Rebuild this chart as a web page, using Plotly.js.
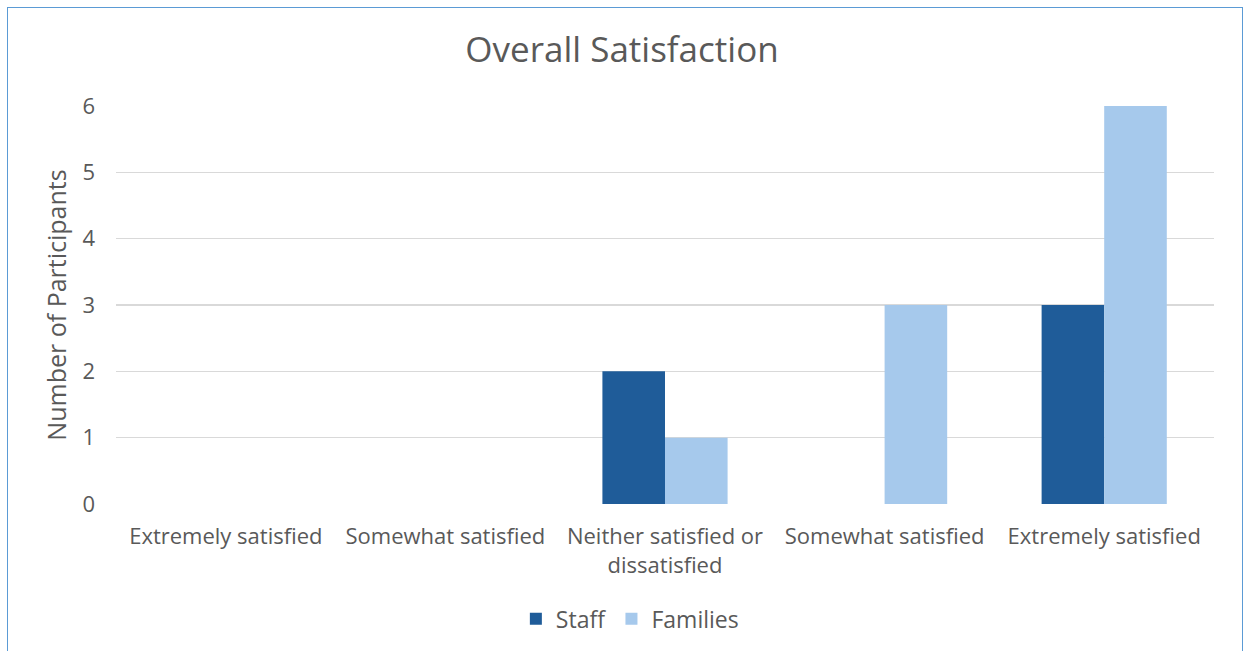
<!DOCTYPE html>
<html>
<head>
<meta charset="utf-8">
<script src="https://cdn.plot.ly/plotly-3.0.1.min.js"></script>
<style>
  html, body { margin: 0; padding: 0; background: #ffffff; overflow: hidden; }
  #frame {
    position: absolute; left: 7px; top: 7px; width: 1236px; height: 660px;
    border: 1.5px solid #5b9bd5; box-sizing: border-box;
  }
  #chart { position: absolute; left: 0; top: 0; width: 1244px; height: 651px; }
</style>
</head>
<body>
<div id="frame"></div>
<div id="chart"></div>
<script>
// Response categories (positions 0..4 along the x axis)
const categories = [
  "Extremely satisfied",
  "Somewhat satisfied",
  "Neither satisfied or<br>dissatisfied",
  "Somewhat satisfied",
  "Extremely satisfied"
];
const staffCounts = [0, 0, 2, 0, 3];
const familyCounts = [0, 0, 1, 3, 6];
const yTicks = [0, 1, 2, 3, 4, 5, 6];

const positions = categories.map((_, i) => i);
const font = "Open Sans, Liberation Sans, sans-serif";
const textColor = "#595959";

const traces = [
  { type: "bar", name: "Staff", x: positions, y: staffCounts,
    marker: { color: "#1f5c99" }, hoverinfo: "skip" },
  { type: "bar", name: "Families", x: positions, y: familyCounts,
    marker: { color: "#a6c9ec" }, hoverinfo: "skip" }
];

const layout = {
  width: 1244, height: 651,
  paper_bgcolor: "rgba(0,0,0,0)", plot_bgcolor: "rgba(0,0,0,0)",
  margin: { l: 116, r: 30, t: 106, b: 146 },
  font: { family: font, color: textColor, size: 22 },
  title: { text: "Overall Satisfaction", x: 0.5, xanchor: "center",
           y: 1 - 50 / 651, yanchor: "middle",
           font: { family: font, size: 35, color: textColor } },
  barmode: "group", bargap: 0.43, bargroupgap: 0,
  xaxis: {
    range: [-0.5, 4.5], tickmode: "array", tickvals: positions, ticktext: categories,
    showgrid: false, zeroline: false, showline: false, ticks: "",
    tickfont: { size: 22, color: textColor }, ticklabelstandoff: 17
  },
  yaxis: {
    range: [0, 6], tickmode: "array", tickvals: yTicks,
    showgrid: true, gridcolor: "#d9d9d9", gridwidth: 1.5,
    zeroline: false, showline: false, ticks: "",
    tickfont: { size: 22, color: textColor }, ticklabelstandoff: 20,
    title: { text: "Number of Participants", standoff: 8,
             font: { size: 25, color: textColor } }
  },
  showlegend: true,
  legend: { orientation: "h", x: 0.468, xanchor: "center", y: -0.285, yanchor: "middle",
            font: { size: 23, color: textColor }, itemwidth: 30,
            traceorder: "normal" }
};

Plotly.newPlot("chart", traces, layout, { displayModeBar: false, staticPlot: true });
</script>
</body>
</html>
